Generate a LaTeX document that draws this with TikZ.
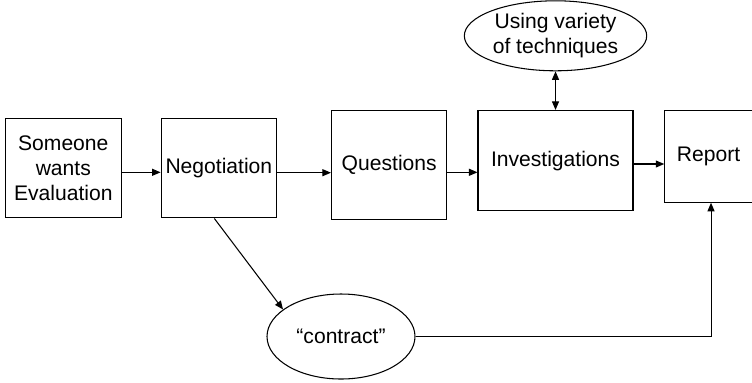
\documentclass[tikz,border=0pt]{standalone}
\usepackage{fontspec}
\setmainfont{Liberation Sans}
\usetikzlibrary{positioning,shapes.geometric,arrows.meta}

\tikzset{
	box/.style={draw, line width=0.6pt, align=center, inner sep=1pt},
	oval/.style={draw, ellipse, line width=0.6pt, align=center, inner sep=1pt},
	arr/.style={line width=0.6pt, -{Triangle[length=1.7mm,width=1.4mm]}},
	arrboth/.style={line width=0.6pt, {Triangle[length=1.7mm,width=1.4mm]}-{Triangle[length=1.7mm,width=1.4mm]}},
}

\begin{document}
\begin{tikzpicture}[font=\fontsize{12}{14.2}\selectfont]
	\useasboundingbox (0,0) rectangle (15.04,-7.64);
	\node[box, minimum width=2.33cm, minimum height=1.99cm] (someone) at (1.266,-3.364) {Someone\\wants\\Evaluation};
	\node[box, minimum width=2.31cm, minimum height=1.99cm, right=0.77cm of someone] (neg) {Negotiation};
	\node[box, minimum width=2.31cm, minimum height=2.17cm, right=1.076cm of neg, yshift=0.067cm] (quest) {Questions};
	\node[box, minimum width=3.1cm, minimum height=2.01cm, right=0.6cm of quest, yshift=0.083cm] (inv) {Investigations};
	\node[box, minimum width=1.75cm, minimum height=1.83cm, right=0.614cm of inv, yshift=0.084cm] (report) {Report};
	\node[oval, minimum width=3.44cm, minimum height=1.4cm, above=0.772cm of inv] (using) {Using variety\\of techniques};
	\node[oval, minimum width=2.96cm, minimum height=1.7cm] (contract) at (6.82,-6.73) {``contract''};

	\draw[arr] ([yshift=-0.082cm]someone.east) -- ([yshift=-0.082cm]someone.east -| neg.west);
	\draw[arr] ([yshift=-0.09cm]neg.east) -- ([yshift=-0.09cm]neg.east -| quest.west);
	\draw[arr] ([yshift=-0.149cm]quest.east) -- ([yshift=-0.149cm]quest.east -| inv.west);
	\draw[arr] ([yshift=-0.066cm]inv.east) -- ([yshift=-0.066cm]inv.east -| report.west);
	\draw[arrboth] (inv.north) -- (inv.north |- using.south);
	\draw[arr] ([xshift=-0.09cm]neg.south) -- (contract.155);
	\draw[arr] (contract.east) -| ([xshift=0.05cm]report.south);
\end{tikzpicture}
\end{document}
